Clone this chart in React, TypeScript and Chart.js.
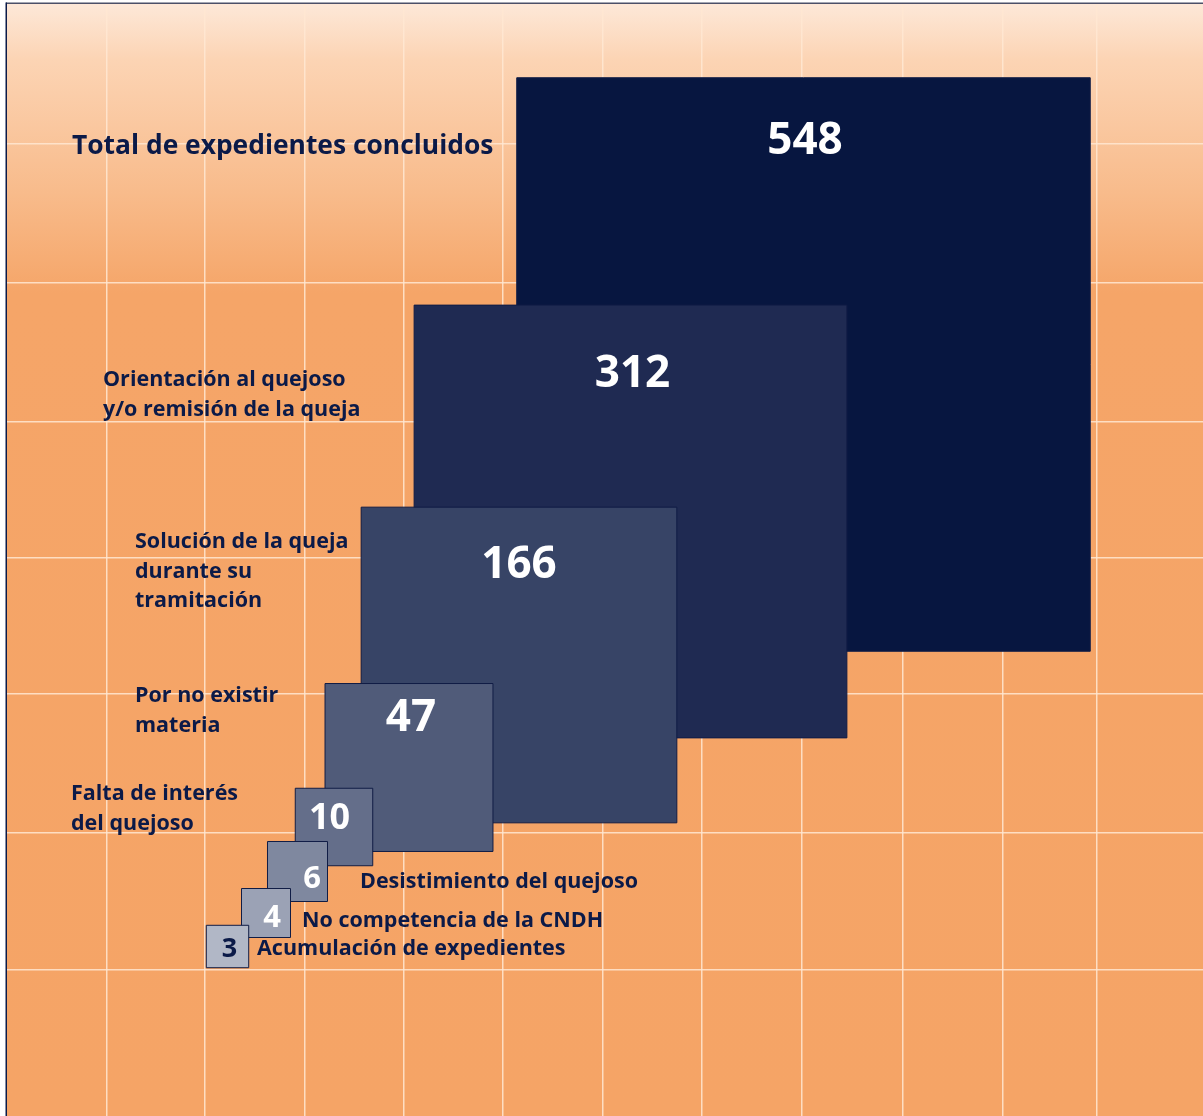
import React, { useEffect, useRef } from 'react';
import { Chart, registerables } from 'chart.js';

Chart.register(...registerables);

// ---- data ----
const CATEGORIES: string[][] = [
  ['Total de expedientes concluidos'],
  ['Orientación al quejoso', 'y/o remisión de la queja'],
  ['Solución de la queja', 'durante su', 'tramitación'],
  ['Por no existir', 'materia'],
  ['Falta de interés', 'del quejoso'],
  ['Desistimiento del quejoso'],
  ['No competencia de la CNDH'],
  ['Acumulación de expedientes'],
];
const VALUES = [548, 312, 166, 47, 10, 6, 4, 3];

// grid tick positions (axis units)
const GRID_X = [107, 205, 305, 404, 503, 603, 702, 802, 903, 1003, 1097];
const GRID_Y = [144, 283, 422, 558, 694, 833, 970];

// ---- layout (axis units) ----
const SQUARE_CX = [803.5, 630.5, 519, 409, 334, 297.5, 266, 227.5];
const SQUARE_CY = [364.5, 521.5, 665, 767.5, 827, 871.5, 913, 946.5];
const SIDE_PER_SQRT = 24.5; // side of a square = SIDE_PER_SQRT * sqrt(value)
const VALUE_X = [805, 632.5, 519, 411, 329.5, 312, 272, 229.5];
const VALUE_Y = [154, 387, 578, 731, 829, 888, 927, 957];
const VALUE_SIZE = [44, 44, 44, 44, 36, 31, 31, 27];
const LABEL_X = [72, 103, 135, 135, 71, 360, 302, 257];
const LABEL_Y = [154, 386, 548, 702, 800, 888, 927, 955];
const LABEL_SIZE = [26.4, 21.5, 21.5, 21.5, 21.5, 21.5, 21.5, 21.5];
const LINE_HEIGHT = 29.5;

// ---- styles ----
const FILLS = ['#071640', '#1f2a52', '#374466', '#505b79', '#646e8a', '#7f889f', '#9ba2b5', '#b1b7c6'];
const VALUE_COLORS = ['#ffffff', '#ffffff', '#ffffff', '#ffffff', '#ffffff', '#ffffff', '#ffffff', '#0b1a48'];
const TEXT_COLOR = '#0b1a48';
const FONT = '"Open Sans", "Noto Sans", sans-serif';

const backgroundPlugin = {
  id: 'bgGradient',
  beforeDraw(chart: any) {
    const { ctx, chartArea } = chart;
    const { left, right, top, bottom } = chartArea;
    const g = ctx.createLinearGradient(0, top, 0, bottom);
    g.addColorStop(0, '#fde8d8');
    g.addColorStop(0.05, '#fcd4b4');
    g.addColorStop(0.17, '#f8bb8b');
    g.addColorStop(0.26, '#f5a568');
    g.addColorStop(1, '#f5a466');
    ctx.save();
    ctx.fillStyle = g;
    ctx.fillRect(left, top, right - left, bottom - top);
    ctx.restore();
  },
  afterDraw(chart: any) {
    const { ctx, chartArea } = chart;
    ctx.save();
    ctx.lineWidth = 1.5;
    ctx.strokeStyle = '#4b5068';
    ctx.beginPath();
    ctx.moveTo(chartArea.left - 1, chartArea.top - 0.75);
    ctx.lineTo(chartArea.right, chartArea.top - 0.75);
    ctx.stroke();
    ctx.strokeStyle = '#0b1a48';
    ctx.beginPath();
    ctx.moveTo(chartArea.left - 0.75, chartArea.top - 1.5);
    ctx.lineTo(chartArea.left - 0.75, chartArea.bottom);
    ctx.stroke();
    ctx.restore();
  },
};

const textPlugin = {
  id: 'squareTexts',
  afterDatasetsDraw(chart: any) {
    const { ctx } = chart;
    const xs = chart.scales.x;
    const ys = chart.scales.y;
    ctx.save();
    ctx.textBaseline = 'alphabetic';
    VALUES.forEach((v, i) => {
      ctx.font = `bold ${VALUE_SIZE[i]}px ${FONT}`;
      ctx.fillStyle = VALUE_COLORS[i];
      ctx.textAlign = 'center';
      ctx.fillText(String(v), xs.getPixelForValue(VALUE_X[i]), ys.getPixelForValue(VALUE_Y[i]));
    });
    CATEGORIES.forEach((lines, i) => {
      ctx.font = `bold ${LABEL_SIZE[i]}px ${FONT}`;
      ctx.fillStyle = TEXT_COLOR;
      ctx.textAlign = 'left';
      lines.forEach((line, j) => {
        ctx.fillText(line, xs.getPixelForValue(LABEL_X[i]), ys.getPixelForValue(LABEL_Y[i] + j * LINE_HEIGHT));
      });
    });
    ctx.restore();
  },
};

function squareRadius(c: any) {
  const i = c.dataIndex;
  if (i === undefined) return 0;
  const xs = c.chart.scales.x;
  const side =
    xs.getPixelForValue(SQUARE_CX[i] + SIDE_PER_SQRT * Math.sqrt(VALUES[i])) -
    xs.getPixelForValue(SQUARE_CX[i]);
  return side / Math.SQRT2;
}

export default function App() {
  const canvasRef = useRef<HTMLCanvasElement | null>(null);

  useEffect(() => {
    if (!canvasRef.current) return;
    const gridColor = 'rgba(255, 232, 210, 0.85)';
    const chart = new Chart(canvasRef.current, {
      type: 'scatter',
      data: {
        datasets: [
          {
            label: 'Expedientes',
            data: VALUES.map((v, i) => ({ x: SQUARE_CX[i], y: SQUARE_CY[i], v })),
            pointStyle: 'rect',
            backgroundColor: FILLS,
            borderColor: '#101c45',
            borderWidth: 1,
            pointRadius: squareRadius,
            pointHoverRadius: squareRadius,
          } as any,
        ],
      },
      options: {
        responsive: false,
        animation: false,
        events: [],
        layout: { padding: { left: 7, top: 4, right: 0, bottom: 0 } },
        plugins: {
          legend: { display: false },
          tooltip: { enabled: false },
        },
        scales: {
          x: {
            type: 'linear',
            min: 7,
            max: 1203,
            ticks: { display: false },
            border: { display: false },
            grid: { drawTicks: false, color: gridColor, lineWidth: 1.5 },
            afterBuildTicks: (s: any) => {
              s.ticks = GRID_X.map((value) => ({ value }));
            },
          },
          y: {
            type: 'linear',
            reverse: true,
            min: 4,
            max: 1116,
            ticks: { display: false },
            border: { display: false },
            grid: { drawTicks: false, color: gridColor, lineWidth: 1.5 },
            afterBuildTicks: (s: any) => {
              s.ticks = GRID_Y.map((value) => ({ value }));
            },
          },
        },
      },
      plugins: [backgroundPlugin, textPlugin],
    });
    return () => chart.destroy();
  }, []);

  return (
    <div style={{ position: 'absolute', left: 0, top: 0, width: 1203, height: 1116, background: '#ffffff' }}>
      <canvas ref={canvasRef} width={1203} height={1116} style={{ width: 1203, height: 1116, display: 'block' }} />
    </div>
  );
}
